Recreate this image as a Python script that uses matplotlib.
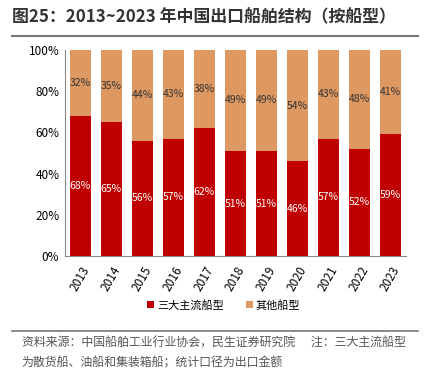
import matplotlib.pyplot as plt
import numpy as np

plt.rcParams['font.family'] = ['Noto Sans CJK SC', 'DejaVu Sans']

years = ['2013', '2014', '2015', '2016', '2017', '2018', '2019', '2020', '2021', '2022', '2023']
main_types = [68, 65, 56, 57, 62, 51, 51, 46, 57, 52, 59]
other_types = [32, 35, 44, 43, 38, 49, 49, 54, 43, 48, 41]

RED = '#C00000'
TAN = '#DE9862'

fig = plt.figure(figsize=(4.30, 3.76), dpi=100)
ax = fig.add_axes([0.151, 0.319, 0.793, 0.548])

x = np.arange(len(years))
b1 = ax.bar(x, main_types, width=0.68, color=RED, label='三大主流船型')
b2 = ax.bar(x, other_types, width=0.68, bottom=main_types, color=TAN, label='其他船型')

for i in range(len(years)):
    ax.text(x[i], main_types[i] / 2, f'{main_types[i]}%', ha='center', va='center',
            color='white', fontsize=7.5)
    ax.text(x[i], main_types[i] + other_types[i] / 2, f'{other_types[i]}%', ha='center',
            va='center', color='#333333', fontsize=7.5)

ax.set_ylim(0, 100)
ax.set_xlim(-0.5, len(years) - 0.5)
ax.set_yticks(np.arange(0, 101, 20))
ax.set_yticklabels([f'{v}%' for v in range(0, 101, 20)], fontsize=8.5)
ax.set_xticks(x)
ax.set_xticklabels(years, rotation=60, fontsize=8.5, ha='center', va='top')
ax.tick_params(length=0, pad=4)
ax.tick_params(axis='x', pad=6)
for s in ['top', 'right']:
    ax.spines[s].set_visible(False)
ax.spines['left'].set_color('#888888')
ax.spines['bottom'].set_color('#888888')

leg = fig.legend(handles=[b1, b2], loc='center', bbox_to_anchor=(0.52, 0.188), ncol=2,
                 frameon=False, fontsize=8, handlelength=0.6, handleheight=0.6,
                 handletextpad=0.3, columnspacing=2.0)

fig.text(0.028, 0.953, '图25：2013~2023 年中国出口船舶结构（按船型）', fontsize=12.2,
         fontweight='bold', color='#333333', ha='left', va='center')
fig.add_artist(plt.Line2D([0.028, 0.972], [0.905, 0.905], color='#777777', lw=1.5))
fig.add_artist(plt.Line2D([0.028, 0.972], [0.120, 0.120], color='#777777', lw=1.2))
fig.text(0.05, 0.088, '资料来源：中国船舶工业行业协会，民生证券研究院      注：三大主流船型',
         fontsize=8.6, color='#555555', ha='left', va='center')
fig.text(0.05, 0.035, '为散货船、油船和集装箱船；统计口径为出口金额',
         fontsize=8.6, color='#555555', ha='left', va='center')

fig.savefig('out.png', dpi=100)
